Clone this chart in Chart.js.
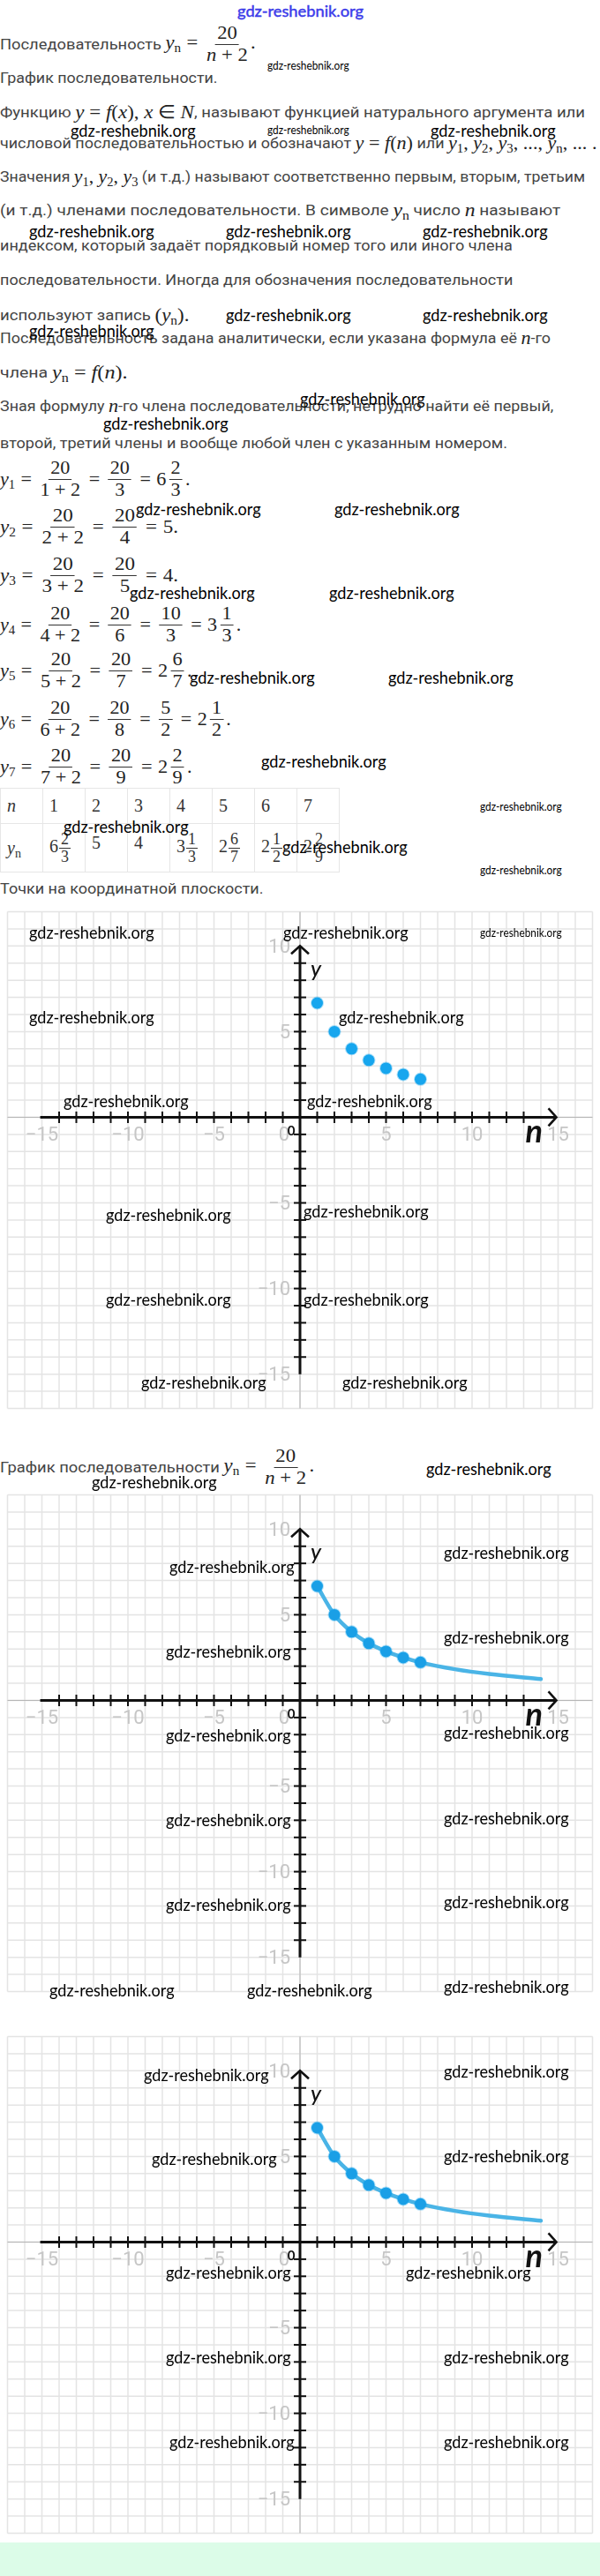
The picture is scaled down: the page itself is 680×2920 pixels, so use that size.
<!DOCTYPE html>
<html><head><meta charset="utf-8">
<script src="https://cdn.jsdelivr.net/npm/chart.js@4.4.1/dist/chart.umd.min.js"></script>
<style>
html,body{margin:0;padding:0;background:#fff;}
#page{position:relative;width:680px;height:2920px;overflow:hidden;background:#fff;}
.t{position:absolute;left:0;white-space:nowrap;font-family:Roboto,sans-serif;font-size:17px;color:#444;display:flex;align-items:center;height:40px;transform-origin:0 50%;}
.q{height:64px;}
.m{font-family:'Liberation Serif',serif;font-size:21px;color:#222;}
.m i{font-style:italic}
sub{font-size:14px;vertical-align:-4px;line-height:0;font-style:normal}
.fr{display:inline-flex;flex-direction:column;align-items:center;margin:0 3px;line-height:1.12;vertical-align:middle}
.fr>span:first-child{border-bottom:1px solid #333;padding:0 2px}
.op{margin:0 6px}
.wm{position:absolute;white-space:nowrap;font-family:Lato,sans-serif;color:#000;transform-origin:0 50%;z-index:5;line-height:1}
canvas{position:absolute;left:0}
#tb{position:absolute;left:0;top:893px;border-collapse:collapse;table-layout:fixed;width:329px}
#tb td{width:40px;border:1px solid #e6e6e6;padding:0 0 0 7px;font-family:'Liberation Serif',serif;font-size:20px;color:#333;vertical-align:middle;white-space:nowrap}
#tb .fr{font-size:18px;margin:0 1px;line-height:1.05}
</style></head>
<body><div id="page">

<div class="t" style="top:30px" data-w="290">Последовательность&nbsp;<span class="m"><i>y</i><sub>n</sub><span class="op">=</span><span class="fr"><span>20</span><span><i>n</i> + 2</span></span>.</span></div>
<div class="t" style="top:68px" data-w="247">График последовательности.</div>
<div class="t" style="top:107px" data-w="663">Функцию&nbsp;<span class="m"><i>y</i> = <i>f</i>(<i>x</i>), <i>x</i> ∈ <i>N</i></span>, называют функцией натурального аргумента или</div>
<div class="t" style="top:142px" data-w="676">числовой последовательностью и обозначают&nbsp;<span class="m"><i>y</i> = <i>f</i>(<i>n</i>)</span>&nbsp;или&nbsp;<span class="m"><i>y</i><sub>1</sub>, <i>y</i><sub>2</sub>, <i>y</i><sub>3</sub>, ..., <i>y</i><sub>n</sub>, ... .</span></div>
<div class="t" style="top:180px" data-w="663">Значения&nbsp;<span class="m"><i>y</i><sub>1</sub>, <i>y</i><sub>2</sub>, <i>y</i><sub>3</sub></span>&nbsp;(и т.д.) называют соответственно первым, вторым, третьим</div>
<div class="t" style="top:218px" data-w="635">(и т.д.) членами последовательности. В символе&nbsp;<span class="m"><i>y</i><sub>n</sub></span>&nbsp;число&nbsp;<span class="m"><i>n</i></span>&nbsp;называют</div>
<div class="t" style="top:258px" data-w="581">индексом, который задаёт порядковый номер того или иного члена</div>
<div class="t" style="top:297px" data-w="581">последовательности. Иногда для обозначения последовательности</div>
<div class="t" style="top:337px" data-w="215">используют запись&nbsp;<span class="m">(<i>y</i><sub>n</sub>).</span></div>
<div class="t" style="top:363px" data-w="624">Последовательность задана аналитически, если указана формула её&nbsp;<span class="m"><i>n</i></span>-го</div>
<div class="t" style="top:402px" data-w="145">члена&nbsp;<span class="m"><i>y</i><sub>n</sub> = <i>f</i>(<i>n</i>).</span></div>
<div class="t" style="top:440px" data-w="627">Зная формулу&nbsp;<span class="m"><i>n</i></span>-го члена последовательности, нетрудно найти её первый,</div>
<div class="t" style="top:482px" data-w="575">второй, третий члены и вообще любой член с указанным номером.</div>

<div class="t q m" style="top:511px" data-w="215"><span><i>y</i><sub>1</sub></span><span class="op">=</span><span class="fr"><span>20</span><span>1 + 2</span></span><span class="op">=</span><span class="fr"><span>20</span><span>3</span></span><span class="op">=</span>6<span class="fr"><span>2</span><span>3</span></span>.</div>
<div class="t q m" style="top:565px" data-w="202"><span><i>y</i><sub>2</sub></span><span class="op">=</span><span class="fr"><span>20</span><span>2 + 2</span></span><span class="op">=</span><span class="fr"><span>20</span><span>4</span></span><span class="op">=</span>5.</div>
<div class="t q m" style="top:620px" data-w="202"><span><i>y</i><sub>3</sub></span><span class="op">=</span><span class="fr"><span>20</span><span>3 + 2</span></span><span class="op">=</span><span class="fr"><span>20</span><span>5</span></span><span class="op">=</span>4.</div>
<div class="t q m" style="top:676px" data-w="273"><span><i>y</i><sub>4</sub></span><span class="op">=</span><span class="fr"><span>20</span><span>4 + 2</span></span><span class="op">=</span><span class="fr"><span>20</span><span>6</span></span><span class="op">=</span><span class="fr"><span>10</span><span>3</span></span><span class="op">=</span>3<span class="fr"><span>1</span><span>3</span></span>.</div>
<div class="t q m" style="top:728px" data-w="217"><span><i>y</i><sub>5</sub></span><span class="op">=</span><span class="fr"><span>20</span><span>5 + 2</span></span><span class="op">=</span><span class="fr"><span>20</span><span>7</span></span><span class="op">=</span>2<span class="fr"><span>6</span><span>7</span></span>.</div>
<div class="t q m" style="top:783px" data-w="262"><span><i>y</i><sub>6</sub></span><span class="op">=</span><span class="fr"><span>20</span><span>6 + 2</span></span><span class="op">=</span><span class="fr"><span>20</span><span>8</span></span><span class="op">=</span><span class="fr"><span>5</span><span>2</span></span><span class="op">=</span>2<span class="fr"><span>1</span><span>2</span></span>.</div>
<div class="t q m" style="top:837px" data-w="217"><span><i>y</i><sub>7</sub></span><span class="op">=</span><span class="fr"><span>20</span><span>7 + 2</span></span><span class="op">=</span><span class="fr"><span>20</span><span>9</span></span><span class="op">=</span>2<span class="fr"><span>2</span><span>9</span></span>.</div>

<table id="tb">
<tr style="height:40px"><td><i>n</i></td><td>1</td><td>2</td><td>3</td><td>4</td><td>5</td><td>6</td><td>7</td></tr>
<tr style="height:55px"><td><i>y</i><sub>n</sub></td><td>6<span class="fr"><span>2</span><span>3</span></span></td><td style="vertical-align:top;padding-top:10px">5</td><td style="vertical-align:top;padding-top:10px">4</td><td>3<span class="fr"><span>1</span><span>3</span></span></td><td>2<span class="fr"><span>6</span><span>7</span></span></td><td>2<span class="fr"><span>1</span><span>2</span></span></td><td>2<span class="fr"><span>2</span><span>9</span></span></td></tr>
</table>

<div class="t" style="top:987px" data-w="299">Точки на координатной плоскости.</div>

<canvas id="c1" width="680" height="580" style="top:1025px"></canvas>

<div class="t" style="top:1631px;height:64px" data-w="356">График последовательности&nbsp;<span class="m"><i>y</i><sub>n</sub><span class="op">=</span><span class="fr"><span>20</span><span><i>n</i> + 2</span></span>.</span></div>

<canvas id="c2" width="680" height="580" style="top:1686px"></canvas>
<canvas id="c3" width="680" height="580" style="top:2300px"></canvas>

<div style="position:absolute;left:0;top:2882px;width:680px;height:38px;background:#dcfce8"></div>
</div>

<script>
// ---- data ----
const nValues = [1, 2, 3, 4, 5, 6, 7];
const yValues = [6.67, 5, 4, 3.33, 2.86, 2.5, 2.22];
const curveN = [1, 2, 3, 4, 5, 6, 7, 9, 11, 14];
const curveY = [6.67, 5, 4, 3.33, 2.86, 2.5, 2.22, 1.82, 1.54, 1.25];
const xTickLabels = [-15, -10, -5, 0, 5, 10, 15];
const yTickLabels = [10, 5, -5, -10, -15];

// fit text lines to measured widths
document.querySelectorAll('[data-w]').forEach(el => {
  const w = el.offsetWidth, t = +el.dataset.w;
  if (w > 0) el.style.transform = 'scaleX(' + (t / w) + ')';
});

// watermarks
const pageEl = document.getElementById('page');
const marks = [
 [303,75,'s'],[80,148,'b'],[303,148,'s'],[488,148,'b'],
 [33,262,'b'],[256,262,'b'],[479,262,'b'],[256,357,'b'],[479,357,'b'],[33,375,'b'],
 [340,452,'b'],[117,480,'b'],[154,577,'b'],[379,577,'b'],[147,672,'b'],[373,672,'b'],
 [215,768,'b'],[440,768,'b'],[296,863,'b'],[544,915,'s'],[72,937,'b'],[320,960,'b'],[544,987,'s'],
 [33,1057,'b'],[321,1057,'b'],[544,1058,'s'],[33,1153,'b'],[384,1153,'b'],[72,1248,'b'],[348,1248,'b'],
 [120,1377,'b'],[344,1373,'b'],[120,1473,'b'],[344,1473,'b'],[160,1567,'b'],[388,1567,'b'],
 [483,1665,'b'],[104,1680,'b'],[503,1760,'b'],[192,1776,'b'],[503,1856,'b'],[188,1872,'b'],
 [188,1967,'b'],[503,1964,'b'],[188,2063,'b'],[503,2061,'b'],[188,2159,'b'],[503,2156,'b'],
 [56,2256,'b'],[280,2256,'b'],[503,2252,'b'],
 [163,2352,'b'],[503,2348,'b'],[172,2447,'b'],[503,2444,'b'],[188,2576,'b'],[460,2576,'b'],
 [188,2672,'b'],[503,2672,'b'],[192,2768,'b'],[503,2768,'b']
];
function addMark(x, y, w, size, color) {
  const d = document.createElement('div');
  d.className = 'wm';
  d.textContent = 'gdz-reshebnik.org';
  d.style.fontSize = size + 'px';
  if (color) d.style.color = color;
  pageEl.appendChild(d);
  const ow = d.offsetWidth, oh = d.offsetHeight;
  d.style.left = x + 'px';
  d.style.top = (y - oh / 2 - 1) + 'px';
  d.style.transform = 'scaleX(' + (w / ow) + ')';
  return d;
}
marks.forEach(m => m[2] === 'b' ? addMark(m[0], m[1], 142, 19) : addMark(m[0], m[1], 93, 14));
const topMark = addMark(269, 13, 143, 17, '#3f3ff2');
topMark.style.webkitTextStroke = '0.4px #3030e0';

// ---- charts ----
const fmt = v => (v < 0 ? '\u2212' + Math.abs(v) : String(v));
const plane = {
  id: 'plane',
  beforeDatasetsDraw(chart) {
    const { ctx, chartArea: a, scales: { x, y } } = chart;
    const X = v => x.getPixelForValue(v), Y = v => y.getPixelForValue(v);
    ctx.save();
    ctx.strokeStyle = '#e4e4e4'; ctx.lineWidth = 1.5;
    for (let v = Math.ceil(x.min); v <= x.max; v++) { ctx.beginPath(); ctx.moveTo(X(v), a.top); ctx.lineTo(X(v), a.bottom); ctx.stroke(); }
    for (let v = Math.ceil(y.min); v <= y.max; v++) { ctx.beginPath(); ctx.moveTo(a.left, Y(v)); ctx.lineTo(a.right, Y(v)); ctx.stroke(); }
    ctx.strokeStyle = '#b4b4b4'; ctx.lineWidth = 1;
    ctx.beginPath(); ctx.moveTo(a.left, Y(0)); ctx.lineTo(a.right, Y(0)); ctx.stroke();
    ctx.beginPath(); ctx.moveTo(X(0), a.top); ctx.lineTo(X(0), a.bottom); ctx.stroke();
    ctx.fillStyle = '#c6c6c6'; ctx.font = '22px Roboto';
    ctx.textAlign = 'center'; ctx.textBaseline = 'middle';
    xTickLabels.forEach(v => ctx.fillText(fmt(v), v === 0 ? X(0) - 18 : X(v), Y(0) + 21));
    ctx.textAlign = 'right';
    yTickLabels.forEach(v => ctx.fillText(fmt(v), X(0) - 11, Y(v) + 2));
    ctx.strokeStyle = '#111'; ctx.lineWidth = 3; ctx.lineCap = 'butt';
    ctx.beginPath(); ctx.moveTo(X(-15.1), Y(0)); ctx.lineTo(X(14.9), Y(0)); ctx.stroke();
    ctx.beginPath(); ctx.moveTo(X(0), Y(-15)); ctx.lineTo(X(0), Y(9.95)); ctx.stroke();
    ctx.lineWidth = 2;
    for (let v = -14; v <= 13; v++) { if (!v) continue; ctx.beginPath(); ctx.moveTo(X(v), Y(0) - 6.5); ctx.lineTo(X(v), Y(0) + 6.5); ctx.stroke(); }
    for (let v = -14; v <= 9; v++) { if (!v) continue; ctx.beginPath(); ctx.moveTo(X(0) - 7, Y(v)); ctx.lineTo(X(0) + 7, Y(v)); ctx.stroke(); }
    ctx.lineWidth = 2.6; ctx.lineJoin = 'miter';
    ctx.beginPath(); ctx.moveTo(X(14.9) - 9, Y(0) - 10); ctx.lineTo(X(14.9), Y(0)); ctx.lineTo(X(14.9) - 9, Y(0) + 10); ctx.stroke();
    ctx.beginPath(); ctx.moveTo(X(0) - 10, Y(10) + 9); ctx.lineTo(X(0), Y(10)); ctx.lineTo(X(0) + 10, Y(10) + 9); ctx.stroke();
    ctx.restore();
  },
  afterDatasetsDraw(chart) {
    const { ctx, scales: { x, y } } = chart;
    const X = v => x.getPixelForValue(v), Y = v => y.getPixelForValue(v);
    ctx.save();
    ctx.fillStyle = '#111'; ctx.textAlign = 'center'; ctx.textBaseline = 'middle';
    ctx.font = 'italic 500 25px Lato';
    ctx.fillText('y', X(0) + 18, Y(8.65));
    ctx.font = 'italic bold 36px Lato';
    ctx.textBaseline = 'alphabetic';
    ctx.fillText('n', X(13.6), Y(0) + 29);
    ctx.font = 'bold 15px Lato'; ctx.textBaseline = 'middle';
    ctx.fillText('0', X(0) - 10, Y(0) + 16);
    ctx.restore();
  }
};

const pts = nValues.map((n, i) => ({ x: n, y: yValues[i] }));
const curve = curveN.map((n, i) => ({ x: n, y: curveY[i] }));
const baseOpts = {
  responsive: false, animation: false, events: [],
  layout: { padding: 0 },
  plugins: { legend: { display: false }, tooltip: { enabled: false } },
  scales: {
    x: { type: 'linear', min: -17, max: 17, display: false },
    y: { type: 'linear', min: -17, max: 12, display: false }
  }
};
const pointSet = {
  type: 'scatter', data: pts, order: 0,
  pointRadius: 6.5, backgroundColor: '#17a6ee', borderColor: 'rgba(23,166,238,0.35)', borderWidth: 2
};
const curveSet = {
  type: 'line', data: curve, order: 1, showLine: true,
  borderColor: '#4ab4e6', borderWidth: 4.5, pointRadius: 0, fill: false,
  cubicInterpolationMode: 'monotone', borderCapStyle: 'round'
};
new Chart(document.getElementById('c1'), { type: 'scatter', data: { datasets: [pointSet] }, options: baseOpts, plugins: [plane] });
new Chart(document.getElementById('c2'), { type: 'scatter', data: { datasets: [Object.assign({}, pointSet, { backgroundColor: '#1a9fe6' }), curveSet] }, options: baseOpts, plugins: [plane] });
new Chart(document.getElementById('c3'), { type: 'scatter', data: { datasets: [Object.assign({}, pointSet, { backgroundColor: '#1a9fe6' }), curveSet] }, options: baseOpts, plugins: [plane] });
</script>
</body></html>
